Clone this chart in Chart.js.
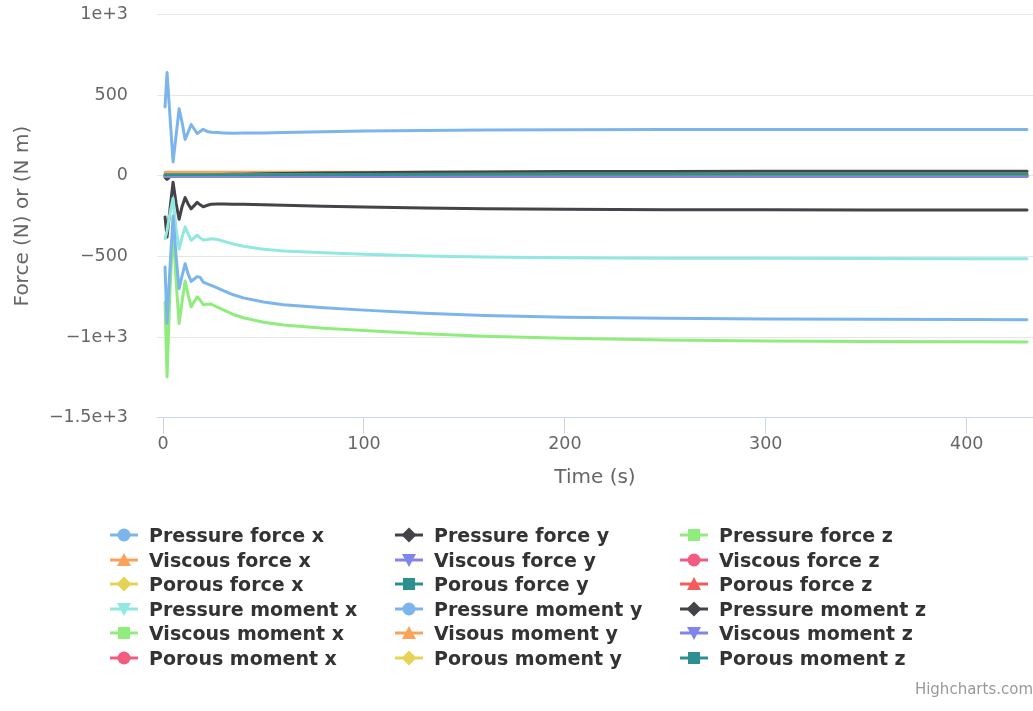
<!DOCTYPE html>
<html>
<head>
<meta charset="utf-8">
<script src="https://cdn.jsdelivr.net/npm/chart.js@4.4.1/dist/chart.umd.min.js"></script>
<style>
  body { margin: 0; background: #fff; overflow: hidden; }
  #Wrap { position: relative; width: 1033px; height: 711px; }
  .Legend-Item {
    position: absolute;
    height: 24px;
    display: flex;
    align-items: center;
    font: bold 19px "DejaVu Sans";
    color: #333333;
    white-space: nowrap;
  }
  .Legend-Item canvas { margin-right: 10px; }
  #Credits { position: absolute; right: 0; top: 680px; font: 15px "DejaVu Sans"; color: #999999; }
</style>
</head>
<body>
<div id="Wrap">
  <canvas id="myChart" width="1033" height="711"></canvas>
  <div id="Legend"></div>
  <div id="Credits">Highcharts.com</div>
</div>
<script>
// * Data
const timeSteps = [1, 2, 3.5, 5, 6.5, 8, 9.5, 11, 12.5, 14, 15.5, 17, 18.5, 20, 22, 24, 27, 30, 35, 40, 50, 60, 80, 100, 130, 160, 200, 250, 300, 350, 400, 430];
const flatSteps = [1, 100, 200, 300, 430];

const pressureForceX = [427, 640, 360, 86, 250, 415, 330, 225, 270, 318, 290, 262, 275, 288, 275, 270, 268, 266, 264, 265, 266, 268, 273, 277, 281, 284, 286, 287, 287, 287, 287, 287];
const pressureForceY = [-255, -380, -200, -40, -170, -270, -190, -135, -175, -205, -185, -165, -180, -192, -183, -177, -175, -175, -176, -177, -180, -183, -189, -194, -200, -204, -208, -210, -211, -212, -212, -212];
const pressureForceZ = [-782, -1247, -700, -330, -650, -916, -780, -652, -740, -813, -780, -751, -770, -800, -797, -795, -815, -832, -860, -880, -908, -925, -945, -960, -980, -995, -1008, -1018, -1024, -1027, -1029, -1030];
const viscousForceX = [22, 22, 24, 25, 25];
const viscousForceY = [-2, -2, -2, -2, -2];
const viscousForceZ = [0, 0, 0, 0, 0];
const porousForceX = [4, 4, 4, 4, 4];
const porousForceY = [4, 4, 4, 4, 4];
const porousForceZ = [0, 0, 0, 0, 0];
const pressureMomentX = [-390, -340, -230, -140, -330, -455, -380, -317, -360, -400, -385, -368, -385, -398, -395, -390, -395, -405, -423, -437, -455, -466, -478, -487, -497, -504, -508, -511, -512, -513, -514, -514];
const pressureMomentY = [-565, -915, -560, -250, -500, -700, -620, -545, -610, -655, -640, -625, -630, -660, -670, -680, -695, -712, -738, -757, -783, -800, -818, -833, -852, -866, -877, -884, -888, -890, -891, -892];
const pressureMomentZ = [-10, -22, -5, 5, 0, -5, 2, 5, 3, 2, 4, 5, 5, 5, 6, 6, 7, 8, 9, 10, 12, 14, 17, 19, 22, 24, 26, 27, 28, 28, 28, 28];
const viscousMomentX = [0, 0, 0, 0, 0];
const visousMomentY = [6, 6, 6, 6, 6];
const viscousMomentZ = [-4, -4, -4, -4, -4];
const porousMomentX = [6, 6, 7, 7, 7];
const porousMomentY = [7, 8, 9, 9, 9];
const porousMomentZ = [7, 8, 9, 9, 9];

const seriesNames = [
  "Pressure force x", "Pressure force y", "Pressure force z",
  "Viscous force x", "Viscous force y", "Viscous force z",
  "Porous force x", "Porous force y", "Porous force z",
  "Pressure moment x", "Pressure moment y", "Pressure moment z",
  "Viscous moment x", "Visous moment y", "Viscous moment z",
  "Porous moment x", "Porous moment y", "Porous moment z",
];
const seriesValues = [
  pressureForceX, pressureForceY, pressureForceZ,
  viscousForceX, viscousForceY, viscousForceZ,
  porousForceX, porousForceY, porousForceZ,
  pressureMomentX, pressureMomentY, pressureMomentZ,
  viscousMomentX, visousMomentY, viscousMomentZ,
  porousMomentX, porousMomentY, porousMomentZ,
];
const seriesSteps = [
  timeSteps, timeSteps, timeSteps,
  flatSteps, flatSteps, flatSteps,
  flatSteps, flatSteps, flatSteps,
  timeSteps, timeSteps, timeSteps,
  flatSteps, flatSteps, flatSteps,
  flatSteps, flatSteps, flatSteps,
];

const xTicks = [0, 100, 200, 300, 400];
const yTicks = [-1500, -1000, -500, 0, 500, 1000];
const yTickLabels = ["\u22121.5e+3", "\u22121e+3", "\u2212500", "0", "500", "1e+3"];

// * Styles
const palette = ["#7cb5ec", "#434348", "#90ed7d", "#f7a35c", "#8085e9", "#f15c80", "#e4d354", "#2b908f", "#f45b5b", "#91e8e1"];
const symbols = ["circle", "diamond", "square", "triangle", "triangle-down"];
const fontFamily = "DejaVu Sans";

// * Functions
function drawSymbol(canvas, color, symbol) {
  var ctx = canvas.getContext("2d");
  var cx = 14, cy = 12;
  ctx.strokeStyle = color;
  ctx.lineWidth = 3;
  ctx.beginPath();
  ctx.moveTo(0, cy);
  ctx.lineTo(28, cy);
  ctx.stroke();

  ctx.fillStyle = color;
  ctx.beginPath();
  if (symbol == "circle") {
    ctx.arc(cx, cy, 6.5, 0, Math.PI * 2);
  } else if (symbol == "square") {
    ctx.rect(cx - 6, cy - 6, 12, 12);
  } else if (symbol == "diamond") {
    ctx.moveTo(cx, cy - 7.5);
    ctx.lineTo(cx + 7.5, cy);
    ctx.lineTo(cx, cy + 7.5);
    ctx.lineTo(cx - 7.5, cy);
  } else if (symbol == "triangle") {
    ctx.moveTo(cx, cy - 7);
    ctx.lineTo(cx + 7, cy + 6);
    ctx.lineTo(cx - 7, cy + 6);
  } else {
    ctx.moveTo(cx - 7, cy - 6);
    ctx.lineTo(cx + 7, cy - 6);
    ctx.lineTo(cx, cy + 7);
  }
  ctx.closePath();
  ctx.fill();
}

function buildLegend() {
  var legend = document.getElementById("Legend");
  var columns = [110, 395, 680];

  seriesNames.forEach((name, i) => {
    var item = document.createElement("div");
    item.className = "Legend-Item";
    item.style.left = columns[i % 3] + "px";
    item.style.top = 523 + Math.floor(i / 3) * 24.6 + "px";

    var icon = document.createElement("canvas");
    icon.width = 29;
    icon.height = 24;
    drawSymbol(icon, palette[i % palette.length], symbols[i % symbols.length]);

    var label = document.createElement("span");
    label.textContent = name;

    item.appendChild(icon);
    item.appendChild(label);
    legend.appendChild(item);
  });
}

function createChart() {
  const datasets = seriesNames.map((name, i) => ({
    label: name,
    data: seriesSteps[i].map((t, j) => ({ x: t, y: seriesValues[i][j] })),
    borderColor: palette[i % palette.length],
    backgroundColor: palette[i % palette.length],
    borderWidth: 3,
    pointRadius: 0,
    tension: 0,
    fill: false,
    borderJoinStyle: "round",
    borderCapStyle: "round",
    order: -i,
  }));

  const config = {
    type: "line",
    data: { datasets },
    options: {
      responsive: false,
      animation: false,
      devicePixelRatio: 1,
      layout: { padding: { top: 14.5, left: 0, right: 0, bottom: 221 } },
      plugins: {
        legend: { display: false },
        tooltip: { enabled: false },
      },
      scales: {
        x: {
          type: "linear",
          min: -3,
          max: 433,
          afterBuildTicks: (scale) => {
            scale.ticks = xTicks.map((v) => ({ value: v }));
          },
          afterFit: (scale) => {
            scale.height = 72.3;
          },
          grid: {
            drawOnChartArea: false,
            drawTicks: true,
            tickLength: 16,
            tickColor: "#ccd6eb",
            tickWidth: 1,
          },
          border: { display: true, color: "#ccd6eb", width: 1 },
          ticks: {
            color: "#666666",
            font: { family: fontFamily, size: 17.5 },
            padding: 0,
            autoSkip: false,
            maxRotation: 0,
          },
          title: {
            display: true,
            text: "Time (s)",
            color: "#666666",
            font: { family: fontFamily, size: 20 },
            padding: { top: 0, bottom: 0 },
          },
        },
        y: {
          min: -1500,
          max: 1000,
          afterBuildTicks: (scale) => {
            scale.ticks = yTicks.map((v) => ({ value: v }));
          },
          afterFit: (scale) => {
            scale.width = 157;
          },
          // transparent tick marks keep the labels clear of the plot
          grid: {
            color: "#e6e6e6",
            lineWidth: 1,
            drawTicks: true,
            tickLength: 29,
            tickColor: "rgba(0,0,0,0)",
          },
          border: { display: false },
          ticks: {
            color: "#666666",
            font: { family: fontFamily, size: 17.5 },
            padding: 0,
            callback: function (value) {
              return yTickLabels[yTicks.indexOf(value)];
            },
          },
          title: {
            display: true,
            text: "Force (N) or (N m)",
            color: "#666666",
            font: { family: fontFamily, size: 20 },
            padding: { top: 11, bottom: 0 },
          },
        },
      },
    },
  };

  return new Chart(document.getElementById("myChart"), config);
}

// * Onload
createChart();
buildLegend();
</script>
</body>
</html>
